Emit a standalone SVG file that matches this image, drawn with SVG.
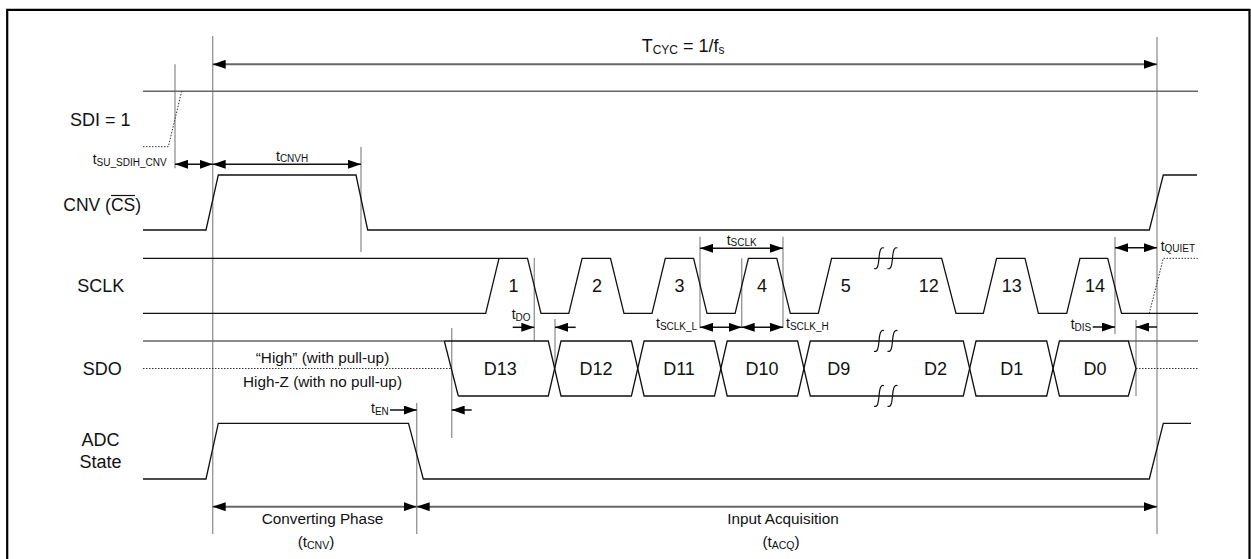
<svg xmlns="http://www.w3.org/2000/svg" width="1251" height="559" viewBox="0 0 1251 559">
<defs>
<marker id="ah" viewBox="0 0 13 9" refX="13" refY="4.5" markerWidth="13" markerHeight="9" markerUnits="userSpaceOnUse" orient="auto-start-reverse"><path d="M0,0 L13,4.5 L0,9 z" fill="#000"/></marker>
<style>
text{font-family:"Liberation Sans",Arial,sans-serif;fill:#111}
.lab{font-size:18px}
.cm{font-size:15.3px}
.tl{font-size:14px}
.sb{font-size:10px}
.sig{fill:none;stroke:#111;stroke-width:1.3}
.gsig{fill:none;stroke:#666;stroke-width:1.5}
.guide{fill:none;stroke:#9a9a9a;stroke-width:1.4}
.dot{fill:none;stroke:#333;stroke-width:1;stroke-dasharray:1.5 1.5}
.dim{fill:none;stroke:#111;stroke-width:1.5}
.dimg{fill:none;stroke:#666;stroke-width:2}
.both{marker-start:url(#ah);marker-end:url(#ah)}
.end{marker-end:url(#ah)}
.start{marker-start:url(#ah)}
.brk{fill:none;stroke:#111;stroke-width:1.2}
</style>
</defs>
<rect width="1251" height="559" fill="#fff"/>
<path d="M7.2,560 V9.8 H1249.5 V560" fill="none" stroke="#000" stroke-width="2.2"/>

<g id="guides">
<path class="guide" d="M175,64.3 V168.3 M212.7,36 V534 M1157,37 V534 M361,147 V252 M416.7,403 V534 M451.7,328 V438 M534.3,258 V341 M555,319 V368 M700,236.7 V328.3 M741.7,258.3 V328.3 M783,236.7 V328.3 M1115,237 V334 M1136,320 V396"/>
</g>

<g id="labels">
<text class="lab" x="70" y="125.7">SDI = 1</text>
<text class="lab" x="63.3" y="210.5" style="font-size:17.5px">CNV (CS)</text>
<line x1="111" y1="195.5" x2="135" y2="195.5" stroke="#111" stroke-width="1.2"/>
<text class="lab" x="77.3" y="291.7">SCLK</text>
<text class="lab" x="82.7" y="374.5">SDO</text>
<text class="lab" x="100.5" y="445.7" text-anchor="middle">ADC</text>
<text class="lab" x="100.5" y="468.3" text-anchor="middle">State</text>
</g>

<g id="sig-sdi">
<path class="gsig" d="M143,91.3 H1198"/>
<path class="dot" d="M143,146.7 H168.3 L181.7,91.3"/>
</g>

<g id="sig-cnv">
<path class="sig" d="M143,230 H206 L218.3,175 H356 L367.7,230 H1149.3 L1163.3,175 H1197"/>
</g>

<g id="sig-sclk">
<path class="sig" d="M143,258.3 H527.5 L541,313.3 H568.8 L582.1,258.3 H610.5 L624,313.3 H652 L665.3,258.3 H693.6 L707,313.3 H735.1 L748.4,258.3 H776.8 L790.3,313.3 H818.3 L831.6,258.3 H941.7 L956,313.3 H983.3 L996.6,258.3 H1025 L1038.4,313.3 H1066.7 L1080,258.3 H1107.7 L1121.5,313.3 H1198"/>
<path class="sig" d="M143,313.3 H485.7 L499,258.3"/>
<path class="dot" d="M1149.3,313.3 L1163.3,258.3 H1197.7"/>
<path class="brk" d="M874,268.5 C877.5,270 878.5,265 879,258.3 C879.5,251.5 880.5,246.5 884,248 M887.5,268.5 C891,270 892,265 892.5,258.3 C893,251.5 894,246.5 897.5,248"/>
<text class="lab" x="513.5" y="292" text-anchor="middle">1</text>
<text class="lab" x="597" y="292" text-anchor="middle">2</text>
<text class="lab" x="679.5" y="292" text-anchor="middle">3</text>
<text class="lab" x="762" y="292" text-anchor="middle">4</text>
<text class="lab" x="845.7" y="292" text-anchor="middle">5</text>
<text class="lab" x="928.8" y="292" text-anchor="middle">12</text>
<text class="lab" x="1011.7" y="292" text-anchor="middle">13</text>
<text class="lab" x="1095" y="292" text-anchor="middle">14</text>
</g>

<g id="sig-sdo">
<path class="gsig" d="M143,341 H444.3 M1128.3,341 H1198"/>
<path class="dot" d="M143,368.5 H451.3 M1136,368.5 H1198"/>
<path class="sig" d="M444.3,341 L458.3,396"/>
<path class="sig" d="M444.3,341 H548.3 L561,396 H631.4 L644.1,341 H714.5 L727.2,396 H797.6 L810.3,341 H963.3 L976,396 H1046.7 L1059.4,341 H1128.3 L1136,368.5"/>
<path class="sig" d="M458.3,396 H548.3 L561,341 H631.4 L644.1,396 H714.5 L727.2,341 H797.6 L810.3,396 H963.3 L976,341 H1046.7 L1059.4,396 H1128.3 L1136,368.5"/>
<path class="brk" d="M874,351.2 C877.5,352.7 878.5,347.7 879,341 C879.5,334.2 880.5,329.2 884,330.7 M887.5,351.2 C891,352.7 892,347.7 892.5,341 C893,334.2 894,329.2 897.5,330.7 M874,406.2 C877.5,407.7 878.5,402.7 879,396 C879.5,389.2 880.5,384.2 884,385.7 M887.5,406.2 C891,407.7 892,402.7 892.5,396 C893,389.2 894,384.2 897.5,385.7"/>
<text class="cm" x="322.5" y="363" text-anchor="middle">“High” (with pull-up)</text>
<text class="cm" x="322.5" y="386.5" text-anchor="middle">High-Z (with no pull-up)</text>
<text class="lab" x="500.3" y="375" text-anchor="middle">D13</text>
<text class="lab" x="596" y="375" text-anchor="middle">D12</text>
<text class="lab" x="679" y="375" text-anchor="middle">D11</text>
<text class="lab" x="762" y="375" text-anchor="middle">D10</text>
<text class="lab" x="838.7" y="375" text-anchor="middle">D9</text>
<text class="lab" x="935.5" y="375" text-anchor="middle">D2</text>
<text class="lab" x="1011.7" y="375" text-anchor="middle">D1</text>
<text class="lab" x="1095" y="375" text-anchor="middle">D0</text>
</g>

<g id="sig-adc">
<path class="sig" d="M143,479 H206 L218.3,423.3 H408.5 L423.3,479 H1149.3 L1163.3,423.3 H1191"/>
</g>

<g id="dimensions">
<path class="dimg both" d="M212.7,64.3 H1157"/>
<text x="641.7" y="51.7" style="font-size:18px">T<tspan style="font-size:12px" dy="2">CYC</tspan><tspan dy="-2"> = 1/f</tspan><tspan style="font-size:12px" dy="2">s</tspan></text>

<path class="dim both" d="M175,164.3 H212.7"/>
<text class="tl" x="92.7" y="164">t<tspan class="sb" dy="1.5">SU_SDIH_CNV</tspan></text>
<path class="dim both" d="M212.7,164.3 H361"/>
<text class="tl" x="276" y="160.5">t<tspan class="sb" dy="1.5">CNVH</tspan></text>

<path class="dim both" d="M700,248.3 H783"/>
<text class="tl" x="726.7" y="244.5">t<tspan class="sb" dy="1.5">SCLK</tspan></text>

<path class="dim both" d="M1115,247.7 H1157"/>
<text class="tl" x="1160.7" y="250.5">t<tspan class="sb" dy="1.5">QUIET</tspan></text>

<path class="dim end" d="M512.7,327.3 H534.3"/>
<path class="dim start" d="M555,327.3 H575.7"/>
<text class="tl" x="511.7" y="319">t<tspan class="sb" dy="1.5">DO</tspan></text>

<path class="dim both" d="M700,327.3 H741.7"/>
<path class="dim both" d="M741.7,327.3 H783"/>
<text class="tl" x="656" y="328">t<tspan class="sb" dy="1.5">SCLK_L</tspan></text>
<text class="tl" x="786" y="328">t<tspan class="sb" dy="1.5">SCLK_H</tspan></text>

<path class="dim end" d="M1092.7,327 H1115"/>
<path class="dim start" d="M1136,327 H1157"/>
<text class="tl" x="1070.7" y="329">t<tspan class="sb" dy="1.5">DIS</tspan></text>

<path class="dim end" d="M390,410 H416.7"/>
<path class="dim start" d="M451.7,410 H471.7"/>
<text class="tl" x="371" y="413">t<tspan class="sb" dy="1.5">EN</tspan></text>

<path class="dimg both" d="M212.7,506.7 H416.7"/>
<path class="dimg both" d="M416.7,506.7 H1157"/>
<text class="cm" x="322.5" y="524" text-anchor="middle">Converting Phase</text>
<text class="cm" x="316" y="546.7" text-anchor="middle">(t<tspan style="font-size:10.5px" dy="2">CNV</tspan><tspan dy="-2">)</tspan></text>
<text class="cm" x="783" y="524" text-anchor="middle">Input Acquisition</text>
<text class="cm" x="781" y="546.7" text-anchor="middle">(t<tspan style="font-size:10.5px" dy="2">ACQ</tspan><tspan dy="-2">)</tspan></text>
</g>
</svg>
